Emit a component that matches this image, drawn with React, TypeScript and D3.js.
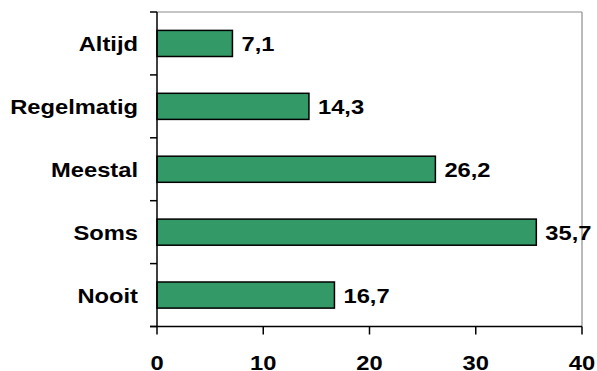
import React from "react";
import * as d3 from "d3";

const categories = ["Altijd", "Regelmatig", "Meestal", "Soms", "Nooit"];
const values = [7.1, 14.3, 26.2, 35.7, 16.7];
const valueLabels = ["7,1", "14,3", "26,2", "35,7", "16,7"];
const xTicks = [0, 10, 20, 30, 40];

const W = 597;
const H = 371;
const left = 157;
const right = 582;
const top = 12;
const bottom = 326.5;

export default function App() {
  const x = d3.scaleLinear().domain([0, 40]).range([left, right]);
  const y = d3
    .scaleBand<string>()
    .domain(categories)
    .range([top, bottom])
    .paddingInner(0.585)
    .paddingOuter(0.2925);
  const step = (bottom - top) / categories.length;
  const font = "'Liberation Sans', Arial, sans-serif";
  const sx = 1.13;
  const fs = 21;

  return (
    <svg
      width={W}
      height={H}
      style={{ position: "absolute", left: 0, top: 0, background: "#fff" }}
    >
      {/* frame top/right */}
      <line x1={left} x2={right} y1={top} y2={top} stroke="#8c8c8c" strokeWidth={1.2} />
      <line x1={right} x2={right} y1={top} y2={bottom} stroke="#8c8c8c" strokeWidth={1.2} />

      {categories.map((c, i) => {
        const by = y(c)!;
        const bw = y.bandwidth();
        return (
          <g key={c}>
            <rect
              x={x(0)}
              y={by}
              width={x(values[i]) - x(0)}
              height={bw}
              fill="#339966"
              stroke="#000"
              strokeWidth={1.5}
            />
            <text
              transform={`translate(${x(values[i]) + 9},${by + bw / 2 + 7.5}) scale(${sx},1)`}
              fontFamily={font}
              fontWeight="bold"
              fontSize={fs}
              fill="#000"
            >
              {valueLabels[i]}
            </text>
            <text
              transform={`translate(138,${by + bw / 2 + 7.5}) scale(${sx},1)`}
              textAnchor="end"
              fontFamily={font}
              fontWeight="bold"
              fontSize={fs}
              fill="#000"
            >
              {c}
            </text>
          </g>
        );
      })}

      {/* left axis */}
      <line x1={left} x2={left} y1={top} y2={bottom} stroke="#000" strokeWidth={1.5} />
      {d3.range(categories.length + 1).map((i) => (
        <line
          key={"yt" + i}
          x1={left - 7}
          x2={left}
          y1={top + i * step}
          y2={top + i * step}
          stroke="#000"
          strokeWidth={1.5}
        />
      ))}

      {/* bottom axis */}
      <line x1={left - 7} x2={right} y1={bottom} y2={bottom} stroke="#000" strokeWidth={1.5} />
      {xTicks.map((t) => (
        <g key={"xt" + t}>
          <line x1={x(t)} x2={x(t)} y1={bottom} y2={bottom + 8} stroke="#000" strokeWidth={1.5} />
          <text
            transform={`translate(${x(t)},370) scale(${sx},1)`}
            textAnchor="middle"
            fontFamily={font}
            fontWeight="bold"
            fontSize={fs}
            fill="#000"
          >
            {t}
          </text>
        </g>
      ))}
    </svg>
  );
}
